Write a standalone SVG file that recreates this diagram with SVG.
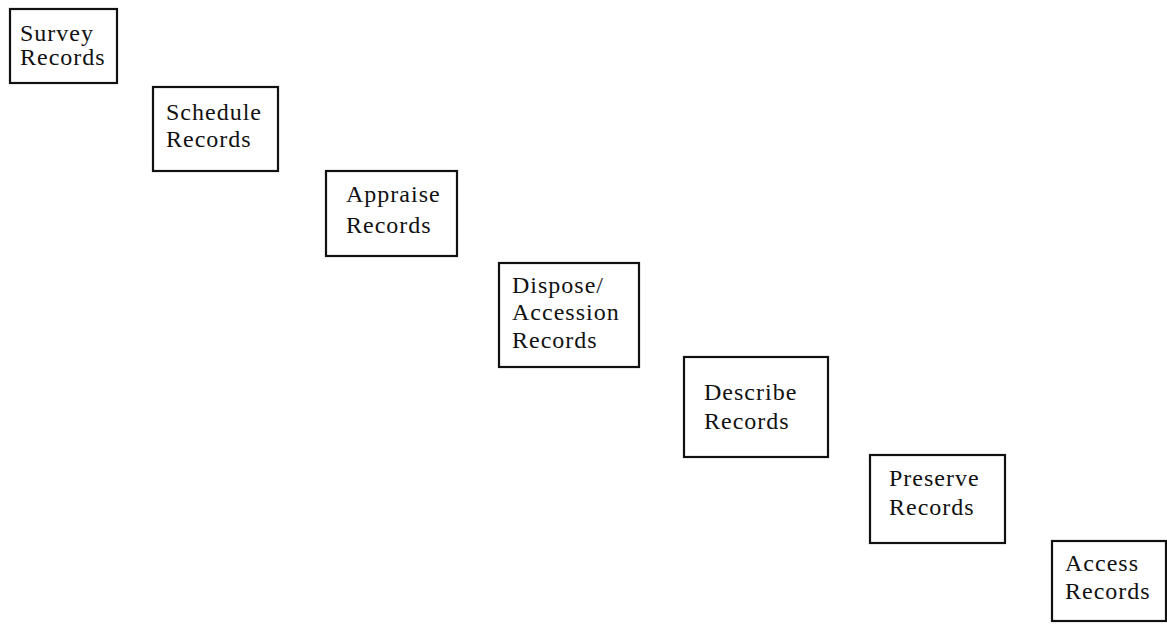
<svg xmlns="http://www.w3.org/2000/svg" width="1167" height="624" viewBox="0 0 1167 624">
<style>
.box{fill:#fff;stroke:#111;stroke-width:2.2}
.t{font-family:"Liberation Serif","Times New Roman",serif;font-size:24px;fill:#111;letter-spacing:1px}
</style>
<rect width="1167" height="624" fill="#fff"/>
<g id="connectors"></g>
<g id="survey">
<rect class="box" x="10" y="9" width="107" height="74"/>
<text class="t" x="20" y="41">Survey</text>
<text class="t" x="20" y="65">Records</text>
</g>
<g id="schedule">
<rect class="box" x="153" y="87" width="125" height="84"/>
<text class="t" x="166" y="120">Schedule</text>
<text class="t" x="166" y="147">Records</text>
</g>
<g id="appraise">
<rect class="box" x="326" y="171" width="131" height="85"/>
<text class="t" x="346" y="202">Appraise</text>
<text class="t" x="346" y="233">Records</text>
</g>
<g id="dispose">
<rect class="box" x="499" y="263" width="140" height="104"/>
<text class="t" x="512" y="293">Dispose/</text>
<text class="t" x="512" y="320">Accession</text>
<text class="t" x="512" y="348">Records</text>
</g>
<g id="describe">
<rect class="box" x="684" y="357" width="144" height="100"/>
<text class="t" x="704" y="400">Describe</text>
<text class="t" x="704" y="429">Records</text>
</g>
<g id="preserve">
<rect class="box" x="870" y="455" width="135" height="88"/>
<text class="t" x="889" y="486">Preserve</text>
<text class="t" x="889" y="515">Records</text>
</g>
<g id="access">
<rect class="box" x="1052" y="541" width="114" height="80"/>
<text class="t" x="1065" y="571">Access</text>
<text class="t" x="1065" y="599">Records</text>
</g>
</svg>
